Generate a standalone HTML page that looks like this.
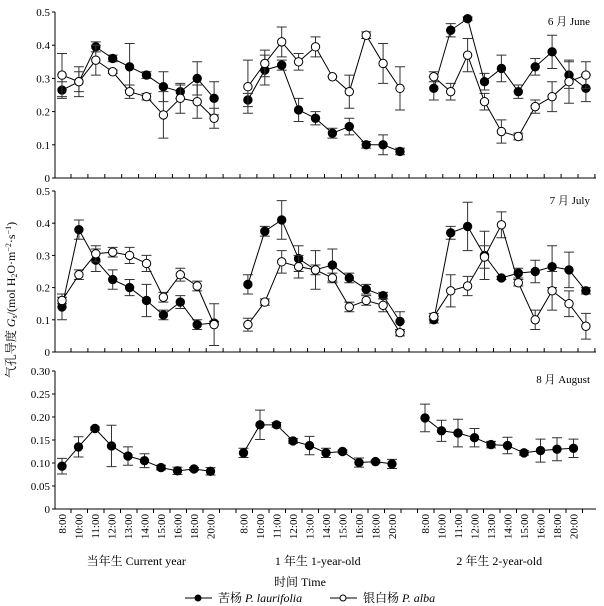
<!DOCTYPE html>
<html><head><meta charset="utf-8"><style>
body{margin:0;background:#fff}
svg{display:block;font-family:"Liberation Serif","Noto Serif CJK SC",serif}
</style></head><body>
<svg id="c" width="604" height="606"></svg>
<script>
const times=["8:00","10:00","11:00","12:00","13:00","14:00","15:00","16:00","18:00","20:00"];
const groups=["当年生 Current year","1 年生 1-year-old","2 年生 2-year-old"];
// June
const junLaur=[[.265,.29,.395,.36,.335,.31,.275,.26,.30,.24],[.235,.325,.34,.205,.18,.135,.155,.10,.10,.08],[.27,.445,.48,.29,.33,.26,.335,.38,.31,.27]];
const junLaurErr=[[.025,.045,.015,.01,.07,.01,.045,.02,.05,.05],[.02,.045,.015,.035,.02,.015,.025,.01,.03,.01],[.035,.02,.005,.025,.04,.02,.025,.05,.04,.04]];
const junAlba=[[.31,.29,.355,.32,.26,.245,.19,.24,.23,.18],[.275,.345,.41,.35,.395,.305,.26,.43,.345,.27],[.305,.26,.37,.23,.14,.125,.215,.245,.29,.31]];
const junAlbaErr=[[.065,.03,.045,.005,.02,.01,.07,.045,.05,.03],[.08,.04,.045,.025,.03,0,.05,.01,.06,.065],[.015,.025,.05,.025,.035,.01,.02,.045,.065,.04]];
// July
const julLaur=[[.14,.38,.285,.225,.20,.16,.115,.155,.085,.09],[.21,.375,.41,.29,.255,.27,.23,.195,.175,.095],[.10,.37,.39,.30,.23,.245,.25,.265,.255,.19]];
const julLaurErr=[[.04,.03,.035,.03,.025,.05,.015,.02,.015,.005],[.03,.015,.06,.04,.06,.05,.015,.015,.01,.03],[.01,.02,.075,.075,.005,.015,.035,.065,.055,.01]];
const julAlba=[[.16,.24,.305,.31,.30,.275,.17,.24,.205,.085],[.085,.155,.28,.265,.255,.23,.14,.16,.145,.06],[.11,.19,.205,.295,.395,.215,.10,.19,.15,.08]];
const julAlbaErr=[[.01,.015,.025,.015,.025,.025,.015,.02,.015,.065],[.02,.01,.035,.035,.015,.015,.015,.015,.02,.01],[.01,.05,.03,.035,.04,.01,.03,.06,.04,.04]];
// August
const augLaur=[[.093,.135,.175,.137,.115,.105,.09,.083,.087,.082],[.122,.183,.183,.148,.138,.122,.125,.101,.103,.098],[.198,.17,.165,.155,.14,.138,.122,.127,.13,.132]];
const augLaurErr=[[.017,.022,.003,.045,.02,.015,.005,.008,.003,.008],[.01,.032,.005,.005,.02,.01,.003,.01,.003,.01],[.03,.023,.03,.02,.007,.018,.005,.025,.025,.02]];
const junTicks=["0","0.1","0.2","0.3","0.4","0.5"];
const augTicks=["0","0.05","0.10","0.15","0.20","0.25","0.30"];

const svg=document.getElementById('c');
const NS="http://www.w3.org/2000/svg";
function mk(t,a,p){const e=document.createElementNS(NS,t);for(const k in a)e.setAttribute(k,a[k]);(p||svg).appendChild(e);return e;}
const AX0=55,AX1=596;
const xsF=step=>(g,i)=>62+(g*11+i)*step;

const panels=[
 {name:"june",y0:178,y1:12,max:0.5,ticks:junTicks,title:"6 月 June",ty:25,series:[[junLaur,junLaurErr,"#000"],[junAlba,junAlbaErr,"#fff"]],tickUp:true,step:16.9},
 {name:"july",y0:352,y1:191,max:0.5,ticks:junTicks,title:"7 月 July",ty:204,series:[[julLaur,julLaurErr,"#000"],[julAlba,julAlbaErr,"#fff"]],tickUp:true,step:16.9},
 {name:"august",y0:509,y1:371,max:0.3,ticks:augTicks,title:"8 月 August",ty:383,series:[[augLaur,augLaurErr,"#000"]],tickUp:false,step:16.5}
];
panels.forEach(p=>{
 const xs=xsF(p.step);
 const g=mk('g',{});
 
 
 const ys=v=>p.y0-(v/p.max)*(p.y0-p.y1);
 const ax=mk('path',{d:`M${AX0},${p.y1}V${p.y0}H${AX1}`,stroke:'#000',fill:'none','stroke-width':1},g);
 
 
 p.ticks.forEach(t=>{
  const v=parseFloat(t),y=ys(v);
  mk('line',{x1:AX0-3,x2:AX0,y1:y,y2:y,stroke:'#000'},g);
  const tx=mk('text',{x:AX0-5,y:y+4,'text-anchor':'end','font-size':11},g);
  tx.textContent=t;
  
  
 });
 for(let x=xs(0,0)+9;x<AX1;x+=p.step){
  mk('line',{x1:x,x2:x,y1:p.y0,y2:p.tickUp?p.y0-4:p.y0+4,stroke:'#000'},g);
 }
 const tt=mk('text',{x:590,y:p.ty,'text-anchor':'end','font-size':11},g);
 tt.textContent=p.title;
 
 
 p.series.forEach(([vals,errs,fill])=>{
  for(let gi=0;gi<3;gi++){
   let pts=vals[gi].map((v,i)=>[xs(gi,i),ys(v)]);
   vals[gi].forEach((v,i)=>{
    const x=xs(gi,i),e=errs[gi][i];
    const eb=mk('path',{d:`M${x},${ys(v-e)}V${ys(v+e)}M${x-5},${ys(v-e)}H${x+5}M${x-5},${ys(v+e)}H${x+5}`,stroke:'#333','stroke-width':1,fill:'none'},g);
    
    
   });
   const ln=mk('polyline',{points:pts.map(q=>q.join(',')).join(' '),fill:'none',stroke:'#000','stroke-width':1},g);
   
   
   pts.forEach(q=>{
    const c=mk('circle',{cx:q[0],cy:q[1],r:4.2,fill:fill,stroke:'#000','stroke-width':1},g);
    
    
   });
  }
 });
});
const xb=xsF(16.5);
for(let gi=0;gi<3;gi++){
 times.forEach((t,i)=>{
  const x=xb(gi,i);
  const tx=mk('text',{x:0,y:0,'text-anchor':'end','font-size':11,transform:`translate(${x+4},514) rotate(-90)`});
  tx.textContent=t;
  
  
 });
 const gl=mk('text',{x:xb(gi,4.5),y:565,'text-anchor':'middle','font-size':12});
 gl.textContent=groups[gi];
 
 
}
const xt=mk('text',{x:300,y:586,'text-anchor':'middle','font-size':12});
xt.textContent="时间 Time";


const yt=mk('text',{x:0,y:0,'text-anchor':'middle','font-size':12,transform:'translate(15,300) rotate(-90)'});
yt.innerHTML='气孔导度 <tspan font-style="italic">G</tspan><tspan font-size="8" dy="2">s</tspan><tspan dy="-2">/(mol H</tspan><tspan font-size="8" dy="2">2</tspan><tspan dy="-2">O·m</tspan><tspan font-size="8" dy="-4">−2</tspan><tspan dy="4">·s</tspan><tspan font-size="8" dy="-4">−1</tspan><tspan dy="4">)</tspan>';


const lg=mk('g',{});


[[185,'#000','苦杨 ','P. laurifolia'],[330,'#fff','银白杨 ','P. alba']].forEach(([x,f,cn,la])=>{
 const e=mk('g',{},lg);
 
 
 mk('line',{x1:x,x2:x+27,y1:598,y2:598,stroke:'#000'},e);
 mk('circle',{cx:x+13,cy:598,r:3,fill:f,stroke:'#000'},e);
 const t=mk('text',{x:x+33,y:602,'font-size':12},e);
 t.innerHTML=cn+'<tspan font-style="italic">'+la+'</tspan>';
});
</script>
</body></html>
